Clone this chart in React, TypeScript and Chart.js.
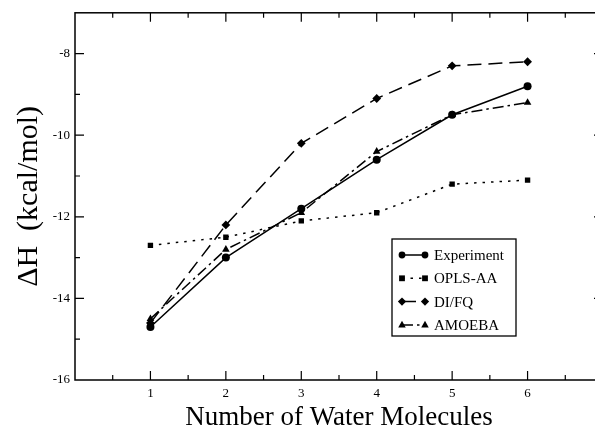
import React, { useEffect, useRef } from "react";
import { Chart, registerables } from "chart.js";

Chart.register(...registerables);

const waterCounts = [1, 2, 3, 4, 5, 6];
const experiment = [-14.7, -13.0, -11.8, -10.6, -9.5, -8.8];
const oplsAA = [-12.7, -12.5, -12.1, -11.9, -11.2, -11.1];
const diFQ = [-14.6, -12.2, -10.2, -9.1, -8.3, -8.2];
const amoeba = [-14.5, -12.8, -11.9, -10.4, -9.5, -9.2];
const xTickLabels = ["1", "2", "3", "4", "5", "6"];
const yTickLabels = ["-16", "-14", "-12", "-10", "-8"];
const seriesNames = ["Experiment", "OPLS-AA", "DI/FQ", "AMOEBA"];
const xTitle = "Number of Water Molecules";
const yTitle = "ΔH  (kcal/mol)";

const SERIF = "'Liberation Serif', 'Times New Roman', serif";

const styles = [
  { dash: [] as number[], point: "circle", radius: 4 },
  { dash: [2.5, 6], point: "rect", radius: 3.8 },
  { dash: [14, 7], point: "rectRot", radius: 4.4 },
  { dash: [11, 4, 2.5, 4], point: "triangle", radius: 4.4 },
];

function drawMarker(ctx: CanvasRenderingContext2D, style: string, x: number, y: number, r: number) {
  ctx.beginPath();
  if (style === "circle") {
    ctx.arc(x, y, r, 0, Math.PI * 2);
  } else if (style === "rect") {
    ctx.rect(x - r * 0.9, y - r * 0.9, r * 1.8, r * 1.8);
  } else if (style === "rectRot") {
    ctx.moveTo(x, y - r * 1.1);
    ctx.lineTo(x + r * 1.1, y);
    ctx.lineTo(x, y + r * 1.1);
    ctx.lineTo(x - r * 1.1, y);
    ctx.closePath();
  } else {
    ctx.moveTo(x, y - r * 1.1);
    ctx.lineTo(x + r, y + r * 0.7);
    ctx.lineTo(x - r, y + r * 0.7);
    ctx.closePath();
  }
  ctx.fill();
}

const framePlugin = {
  id: "frame",
  afterDraw(chart: any) {
    const { ctx, chartArea } = chart;
    const { left, right, top, bottom } = chartArea;
    const xs = chart.scales.x;
    const ys = chart.scales.y;
    ctx.save();
    ctx.strokeStyle = "#000";
    ctx.lineWidth = 1.5;
    ctx.setLineDash([]);
    ctx.strokeRect(left, top, right - left, bottom - top);
    ctx.lineWidth = 1.2;
    for (let v = 0.5; v < 7; v += 0.5) {
      const px = xs.getPixelForValue(v);
      const len = Number.isInteger(v) ? 9 : 5;
      ctx.beginPath();
      ctx.moveTo(px, bottom);
      ctx.lineTo(px, bottom - len);
      ctx.moveTo(px, top);
      ctx.lineTo(px, top + len);
      ctx.stroke();
    }
    for (let v = -15; v <= -8; v += 1) {
      const py = ys.getPixelForValue(v);
      const len = v % 2 === 0 ? 9 : 5;
      ctx.beginPath();
      ctx.moveTo(left, py);
      ctx.lineTo(left + len, py);
      ctx.moveTo(right, py);
      ctx.lineTo(right - len, py);
      ctx.stroke();
    }
    // titles
    ctx.fillStyle = "#000";
    ctx.font = `27px ${SERIF}`;
    ctx.textAlign = "center";
    ctx.textBaseline = "middle";
    ctx.fillText(xTitle, (left + right) / 2, 418);
    ctx.save();
    ctx.font = `30px ${SERIF}`;
    ctx.translate(29, (top + bottom) / 2);
    ctx.rotate(-Math.PI / 2);
    ctx.fillText(yTitle, 0, 0);
    ctx.restore();

    // legend
    const bx = 392, by = 239, bw = 124, bh = 97;
    ctx.fillStyle = "#fff";
    ctx.fillRect(bx, by, bw, bh);
    ctx.lineWidth = 1.3;
    ctx.strokeStyle = "#000";
    ctx.strokeRect(bx, by, bw, bh);
    ctx.font = `15px ${SERIF}`;
    ctx.textAlign = "left";
    ctx.textBaseline = "middle";
    const ds = chart.data.datasets;
    for (let i = 0; i < ds.length; i++) {
      const y = by + 16 + i * 23.3;
      const x1 = bx + 10, x2 = bx + 33;
      const st = styles[i];
      ctx.strokeStyle = "#000";
      ctx.lineWidth = 1.5;
      ctx.setLineDash(st.dash);
      ctx.beginPath();
      ctx.moveTo(x1, y);
      ctx.lineTo(x2, y);
      ctx.stroke();
      ctx.setLineDash([]);
      ctx.fillStyle = "#000";
      drawMarker(ctx, st.point, x1, y, st.radius * 0.85);
      drawMarker(ctx, st.point, x2, y, st.radius * 0.85);
      ctx.fillText(ds[i].label, bx + 42, y + 1);
    }
    ctx.restore();
  },
};

export default function App() {
  const ref = useRef<HTMLCanvasElement | null>(null);
  useEffect(() => {
    const canvas = ref.current;
    if (!canvas) return;
    const series = [experiment, oplsAA, diFQ, amoeba];
    const chart = new Chart(canvas, {
      type: "line",
      data: {
        datasets: series.map((vals, i) => ({
          label: seriesNames[i],
          data: vals.map((v, j) => ({ x: waterCounts[j], y: v })),
          borderColor: "#000",
          backgroundColor: "#000",
          borderWidth: 1.5,
          borderDash: styles[i].dash,
          pointStyle: styles[i].point as any,
          pointRadius: styles[i].radius,
          pointBorderWidth: 0,
          pointBackgroundColor: "#000",
          fill: false,
          tension: 0,
        })),
      },
      options: {
        responsive: false,
        animation: false,
        events: [],
        layout: { padding: { top: 12, right: 9, left: 0, bottom: 0 } },
        plugins: {
          legend: { display: false },
          tooltip: { enabled: false },
          title: { display: false },
        },
        scales: {
          x: {
            type: "linear",
            min: 0,
            max: 7,
            grid: { display: false, drawTicks: false },
            border: { display: false },
            afterFit: (s: any) => {
              s.height = 55;
            },
            ticks: {
              stepSize: 1,
              padding: 6,
              color: "#000",
              font: { family: SERIF, size: 13 },
              maxRotation: 0,
              autoSkip: false,
              callback: (v: any) => {
                const idx = waterCounts.indexOf(Number(v));
                return idx >= 0 ? xTickLabels[idx] : "";
              },
            },
          },
          y: {
            type: "linear",
            min: -16,
            max: -7,
            grid: { display: false, drawTicks: false },
            border: { display: false },
            afterFit: (s: any) => {
              s.width = 75;
            },
            ticks: {
              stepSize: 1,
              padding: 5,
              color: "#000",
              font: { family: SERIF, size: 13 },
              autoSkip: false,
              callback: (v: any) => {
                const s = String(v);
                return yTickLabels.includes(s) ? s : "";
              },
            },
          },
        },
      },
      plugins: [framePlugin],
    });
    return () => chart.destroy();
  }, []);
  return (
    <div
      style={{
        position: "fixed",
        left: 0,
        top: 0,
        width: 595,
        height: 435,
        overflow: "hidden",
        background: "#fff",
      }}
    >
      <canvas ref={ref} width={612} height={435} style={{ display: "block" }} />
    </div>
  );
}
